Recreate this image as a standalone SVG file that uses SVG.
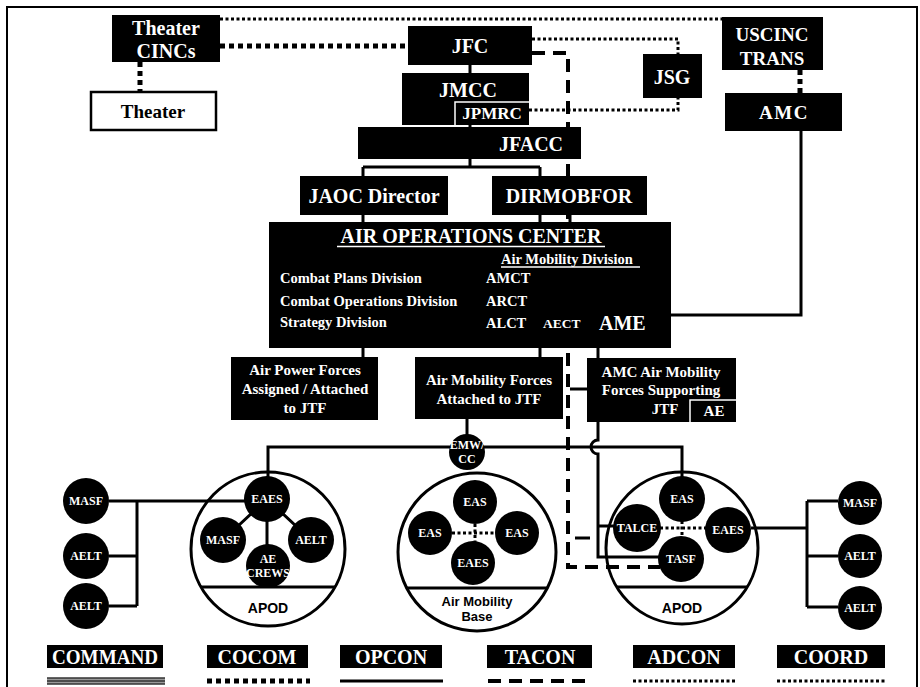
<svg xmlns="http://www.w3.org/2000/svg" width="920" height="687" viewBox="0 0 920 687">
<style>
.box{fill:#000}
.wbox{fill:#fff;stroke:#000;stroke-width:2.5}
.t{font-family:"Liberation Serif","Times New Roman",serif;font-weight:bold;fill:#fff;text-anchor:middle}
.tl{font-family:"Liberation Serif","Times New Roman",serif;font-weight:bold;fill:#fff;text-anchor:start}
.k{font-family:"Liberation Serif","Times New Roman",serif;font-weight:bold;fill:#000;text-anchor:middle}
.s{font-family:"Liberation Sans",Arial,sans-serif;font-weight:bold;fill:#000;text-anchor:middle}
.c{font-family:"Liberation Serif","Times New Roman",serif;font-weight:bold;fill:#fff;text-anchor:middle;font-size:12px}
.solid{stroke:#000;stroke-width:3;fill:none}
.cocom{stroke:#000;stroke-width:5;stroke-dasharray:5 4;fill:none}
.dot{stroke:#000;stroke-width:3;stroke-dasharray:3 2.5;fill:none}
.tacon{stroke:#000;stroke-width:4;stroke-dasharray:13 8;fill:none}
.ring{fill:none;stroke:#000;stroke-width:3}
.wl{stroke:#fff;stroke-width:1.5;fill:none}
</style>
<rect x="7" y="7" width="910" height="700" fill="#fff" stroke="#000" stroke-width="2"/>

<g id="connectors">
  <path class="dot" d="M220 19 H722"/>
  <path class="cocom" d="M220 46 H408"/>
  <path class="cocom" d="M140 62 V92"/>
  <path class="dot" d="M532 39 H678 V54"/>
  <path class="dot" d="M529 110 H678 V98"/>
  <path class="cocom" d="M800 70 V93"/>
  <path class="solid" d="M801 131 V315 H670"/>
  <path class="solid" d="M470 65 V127"/>
  <path class="solid" d="M470 159 V167 M363 167 H540 M363 167 V176 M540 167 V176"/>
  <path class="solid" d="M363 215 V222 M540 215 V222 M570 215 V222"/>
  <path class="solid" d="M363 347 V357 M540 347 V357 M598 347 V358"/>
  <path class="tacon" d="M532 53 H568 V567 H660"/>
  <path class="solid" stroke-width="4" d="M575 538 H590"/>
  <path class="solid" d="M570 389 H587"/>
  <path class="solid" d="M467 419 V436"/>
  <path class="solid" d="M268 477 V447 H682 V477"/>
  <path class="solid" d="M598 422 V440 A7 7 0 0 0 598 454 V557 H659 M598 526 H615"/>
  <path class="solid" d="M109 501 H245 M137 501 V606 M109 556 H137 M109 606 H137"/>
  <path class="solid" d="M267 499 L223 540 M267 499 L311 540 M267 499 V567 M268 567 V587"/>
  <path class="dot" d="M452 533 H496 M475 502 V563"/>
  <path class="dot" d="M660 528 H706 M682 499 V559"/>
  <path class="solid" d="M751 528 H807 M807 501 V607 M807 501 H838 M807 556 H838 M807 607 H838"/>
</g>

<g id="theater-cincs"><rect class="box" x="112" y="15" width="108" height="47"/>
  <text class="t" x="166" y="35" font-size="20">Theater</text><text class="t" x="166" y="58" font-size="20">CINCs</text></g>
<g id="theater"><rect class="wbox" x="91" y="92" width="125" height="38"/>
  <text class="k" x="153" y="118" font-size="19">Theater</text></g>
<g id="jfc"><rect class="box" x="408" y="26" width="124" height="39"/>
  <text class="t" x="470" y="53" font-size="20">JFC</text></g>
<g id="jmcc"><rect class="box" x="402" y="73" width="127" height="52"/>
  <text class="t" x="468" y="97" font-size="20">JMCC</text>
  <path class="wl" d="M455 125 V102 H529"/>
  <text class="t" x="492" y="119" font-size="17">JPMRC</text></g>
<g id="jfacc"><rect class="box" x="358" y="127" width="223" height="32"/>
  <text class="t" x="531" y="151" font-size="20">JFACC</text></g>
<g id="jsg"><rect class="box" x="643" y="54" width="59" height="44"/>
  <text class="t" x="672" y="84" font-size="20">JSG</text></g>
<g id="uscinctrans"><rect class="box" x="722" y="17" width="101" height="53"/>
  <text class="t" x="772" y="41" font-size="19">USCINC</text><text class="t" x="772" y="65" font-size="19">TRANS</text></g>
<g id="amc"><rect class="box" x="725" y="93" width="117" height="38"/>
  <text class="t" x="784" y="119" font-size="19" letter-spacing="1.5">AMC</text></g>
<g id="jaoc-director"><rect class="box" x="300" y="176" width="148" height="39"/>
  <text class="t" x="374" y="203" font-size="20">JAOC Director</text></g>
<g id="dirmobfor"><rect class="box" x="492" y="176" width="155" height="39"/>
  <text class="t" x="569" y="203" font-size="20">DIRMOBFOR</text></g>
<g id="aoc"><rect class="box" x="269" y="222" width="402" height="126"/>
  <text class="t" x="471" y="243" font-size="20">AIR OPERATIONS CENTER</text>
  <line class="wl" x1="337" y1="246.5" x2="605" y2="246.5"/>
  <text class="tl" x="501" y="264" font-size="14.5">Air Mobility Division</text>
  <line class="wl" x1="501" y1="267" x2="640" y2="267"/>
  <text class="tl" x="280" y="283" font-size="14.5">Combat Plans Division</text>
  <text class="tl" x="280" y="306" font-size="14.5">Combat Operations Division</text>
  <text class="tl" x="280" y="327" font-size="14.5">Strategy Division</text>
  <text class="tl" x="486" y="283" font-size="14.5">AMCT</text>
  <text class="tl" x="486" y="306" font-size="14.5">ARCT</text>
  <text class="tl" x="486" y="328" font-size="14.5">ALCT</text>
  <text class="tl" x="543" y="328" font-size="13.5">AECT</text>
  <text class="tl" x="599" y="330" font-size="20">AME</text></g>
<g id="air-power-forces"><rect class="box" x="231" y="357" width="147" height="63"/>
  <text class="t" x="305" y="375" font-size="15">Air Power Forces</text>
  <text class="t" x="305" y="394" font-size="15">Assigned / Attached</text>
  <text class="t" x="305" y="413" font-size="15">to JTF</text></g>
<g id="air-mobility-forces"><rect class="box" x="415" y="357" width="148" height="62"/>
  <text class="t" x="489" y="385" font-size="15">Air Mobility Forces</text>
  <text class="t" x="489" y="404" font-size="15">Attached to JTF</text></g>
<g id="amc-forces"><rect class="box" x="587" y="358" width="149" height="64"/>
  <text class="t" x="661" y="377" font-size="15">AMC Air Mobility</text>
  <text class="t" x="661" y="395" font-size="15">Forces Supporting</text>
  <text class="t" x="665" y="414" font-size="15">JTF</text>
  <path class="wl" d="M690 422 V400 H736"/>
  <text class="t" x="714" y="416" font-size="15">AE</text></g>

<g id="emwcc"><circle class="box" cx="467" cy="452" r="18"/>
  <text class="c" x="467" y="449" font-size="11">EMW/</text><text class="c" x="467" y="463" font-size="11">CC</text></g>

<g id="apod-left"><circle class="ring" cx="268" cy="549" r="77"/>
  <line class="ring" x1="201" y1="587" x2="335" y2="587"/>
  <text class="s" x="268" y="613" font-size="14">APOD</text>
  <circle class="box" cx="267" cy="499" r="23"/><text class="c" x="267" y="503">EAES</text>
  <circle class="box" cx="223" cy="540" r="23"/><text class="c" x="223" y="544">MASF</text>
  <circle class="box" cx="311" cy="540" r="23"/><text class="c" x="311" y="544">AELT</text>
  <circle class="box" cx="268" cy="566" r="22"/><text class="c" x="268" y="563">AE</text><text class="c" x="268" y="577">CREWS</text></g>

<g id="left-group">
  <circle class="box" cx="86" cy="501" r="23"/><text class="c" x="86" y="505">MASF</text>
  <circle class="box" cx="86" cy="556" r="23"/><text class="c" x="86" y="560">AELT</text>
  <circle class="box" cx="86" cy="606" r="23"/><text class="c" x="86" y="610">AELT</text></g>

<g id="air-mobility-base"><circle class="ring" cx="477" cy="552" r="79"/>
  <line class="ring" x1="406" y1="588" x2="548" y2="588"/>
  <text class="s" x="477" y="606" font-size="13">Air Mobility</text>
  <text class="s" x="477" y="621" font-size="13">Base</text>
  <circle class="box" cx="475" cy="502" r="22"/><text class="c" x="475" y="506">EAS</text>
  <circle class="box" cx="430" cy="533" r="22"/><text class="c" x="430" y="537">EAS</text>
  <circle class="box" cx="517" cy="533" r="22"/><text class="c" x="517" y="537">EAS</text>
  <circle class="box" cx="473" cy="563" r="22"/><text class="c" x="473" y="567">EAES</text></g>

<g id="apod-right"><circle class="ring" cx="682" cy="548" r="76"/>
  <line class="ring" x1="617" y1="587" x2="747" y2="587"/>
  <text class="s" x="682" y="613" font-size="14">APOD</text>
  <circle class="box" cx="682" cy="499" r="23"/><text class="c" x="682" y="503">EAS</text>
  <circle class="box" cx="637" cy="528" r="24"/><text class="c" x="637" y="532">TALCE</text>
  <circle class="box" cx="728" cy="530" r="23"/><text class="c" x="728" y="534">EAES</text>
  <circle class="box" cx="681" cy="559" r="23"/><text class="c" x="681" y="563">TASF</text></g>

<g id="right-group">
  <circle class="box" cx="860" cy="503" r="22"/><text class="c" x="860" y="507">MASF</text>
  <circle class="box" cx="860" cy="556" r="22"/><text class="c" x="860" y="560">AELT</text>
  <circle class="box" cx="860" cy="608" r="22"/><text class="c" x="860" y="612">AELT</text></g>

<g id="legend">
  <rect class="box" x="47" y="645" width="116" height="23"/><text class="t" x="105" y="664" font-size="20" textLength="106" lengthAdjust="spacingAndGlyphs">COMMAND</text>
  <rect class="box" x="207" y="645" width="101" height="23"/><text class="t" x="257" y="664" font-size="20">COCOM</text>
  <rect class="box" x="340" y="645" width="102" height="23"/><text class="t" x="391" y="664" font-size="20">OPCON</text>
  <rect class="box" x="487" y="645" width="105" height="23"/><text class="t" x="540" y="664" font-size="20">TACON</text>
  <rect class="box" x="633" y="645" width="102" height="23"/><text class="t" x="684" y="664" font-size="20">ADCON</text>
  <rect class="box" x="777" y="645" width="108" height="23"/><text class="t" x="831" y="664" font-size="20">COORD</text>
  <line x1="47" y1="681" x2="165" y2="681" stroke="#999" stroke-width="7"/>
  <line x1="47" y1="678" x2="165" y2="678" stroke="#000" stroke-width="1"/>
  <line x1="47" y1="681" x2="165" y2="681" stroke="#000" stroke-width="1"/>
  <line x1="47" y1="684" x2="165" y2="684" stroke="#000" stroke-width="1"/>
  <line class="cocom" x1="207" y1="681" x2="310" y2="681"/>
  <line class="solid" stroke-width="4" x1="340" y1="681" x2="443" y2="681"/>
  <line class="tacon" x1="488" y1="681" x2="590" y2="681" stroke-dasharray="12 10"/>
  <line class="dot" x1="633" y1="681" x2="735" y2="681"/>
  <line class="dot" x1="777" y1="681" x2="885" y2="681"/>
</g>
</svg>
